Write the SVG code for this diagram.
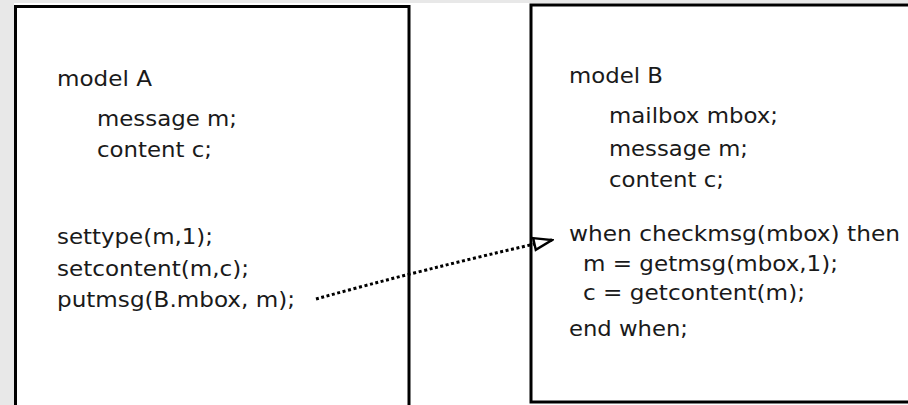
<svg xmlns="http://www.w3.org/2000/svg" width="908" height="405" viewBox="0 0 908 405">
<style>
.box{fill:#ffffff;stroke:#000000;stroke-width:3}
.t{font-family:"DejaVu Sans","Liberation Sans",sans-serif;font-size:21px;fill:#1a1a1a}
.conn{fill:none;stroke:#000000;stroke-width:3;stroke-dasharray:3 2.6}
</style>
<defs>
<marker id="open" markerWidth="22" markerHeight="16" refX="20" refY="8" orient="auto" markerUnits="userSpaceOnUse" viewBox="0 0 22 16">
<path d="M2,2 L20,8 L2,14 Z" fill="#ffffff" stroke="#000000" stroke-width="2.4"/>
</marker>
</defs>
<rect x="0" y="0" width="908" height="405" fill="#e8e8e8"/>
<rect x="14" y="3" width="894" height="402" fill="#ffffff"/>
<g id="modelA">
<rect class="box" x="15.5" y="6.5" width="393.5" height="420"/>
<text class="t" x="57" y="86" textLength="95" lengthAdjust="spacingAndGlyphs">model A</text>
<text class="t" x="97" y="126" textLength="140" lengthAdjust="spacingAndGlyphs">message m;</text>
<text class="t" x="97" y="157" textLength="115" lengthAdjust="spacingAndGlyphs">content c;</text>
<text class="t" x="57" y="244" textLength="156" lengthAdjust="spacingAndGlyphs">settype(m,1);</text>
<text class="t" x="57" y="276" textLength="192" lengthAdjust="spacingAndGlyphs">setcontent(m,c);</text>
<text class="t" x="57" y="307" textLength="238" lengthAdjust="spacingAndGlyphs">putmsg(B.mbox, m);</text>
</g>
<g id="modelB">
<rect class="box" x="531" y="5" width="400" height="397"/>
<text class="t" x="569" y="83" textLength="94" lengthAdjust="spacingAndGlyphs">model B</text>
<text class="t" x="609" y="123" textLength="169" lengthAdjust="spacingAndGlyphs">mailbox mbox;</text>
<text class="t" x="609" y="156" textLength="139" lengthAdjust="spacingAndGlyphs">message m;</text>
<text class="t" x="609" y="187" textLength="115" lengthAdjust="spacingAndGlyphs">content c;</text>
<text class="t" x="569" y="241" textLength="331" lengthAdjust="spacingAndGlyphs">when checkmsg(mbox) then</text>
<text class="t" x="583" y="271" textLength="255" lengthAdjust="spacingAndGlyphs">m = getmsg(mbox,1);</text>
<text class="t" x="583" y="300" textLength="222" lengthAdjust="spacingAndGlyphs">c = getcontent(m);</text>
<text class="t" x="569" y="336" textLength="119" lengthAdjust="spacingAndGlyphs">end when;</text>
</g>
<g id="connectors">
<path class="conn" d="M316,299 Q420,270 552,240" marker-end="url(#open)"/>
</g>
</svg>
